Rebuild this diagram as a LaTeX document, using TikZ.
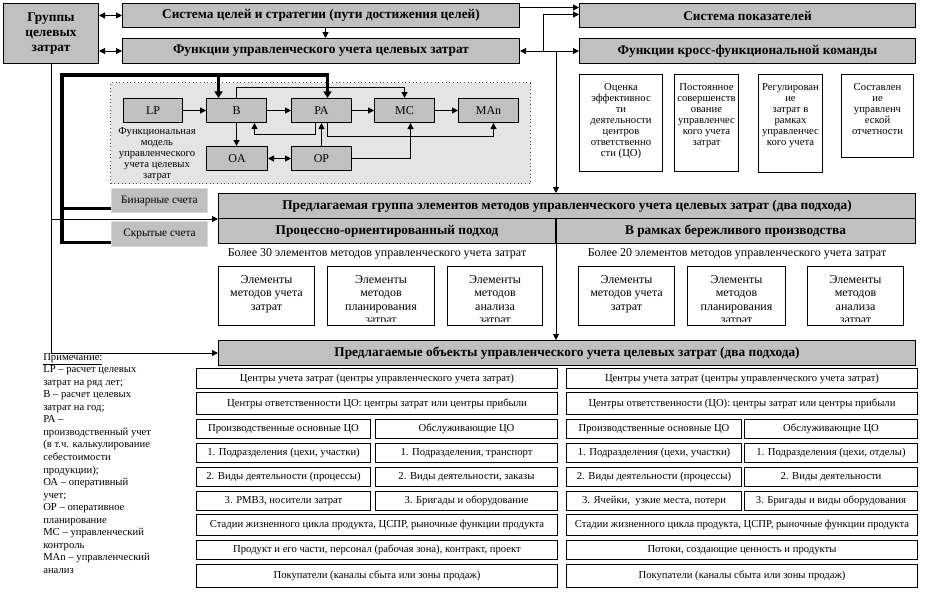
\documentclass[tikz,border=0pt]{standalone}
\usepackage{fontspec}
\setmainfont{Liberation Serif}
\usetikzlibrary{arrows.meta,calc}
\definecolor{gcol}{HTML}{C0C0C0}
\definecolor{areacol}{HTML}{E4E4E4}
\newcommand{\rb}[7]{\node[#1, anchor=north west, minimum width={(#5-#3)*0.75pt}, minimum height={(#6-#4)*0.75pt}] (#2) at (#3,#4) {#7};}
\tikzset{
  gbox/.style={draw=black, fill=gcol, line width=0.75pt, inner sep=0pt, align=center, font=\bfseries\fontsize{10}{11}\selectfont},
  sbox/.style={draw=black, fill=white, line width=0.75pt, inner sep=0pt},
  stext/.style={anchor=north, inner sep=0pt, align=center, font=\fontsize{8}{8.3}\selectfont},
  mbox/.style={draw=black, fill=gcol, line width=0.75pt, inner sep=0pt, font=\fontsize{9}{10}\selectfont},
  lbox/.style={draw=gray!30, fill=gcol, line width=0.75pt, inner sep=0pt, font=\fontsize{8.5}{10}\selectfont},
  area/.style={draw=black!70, dotted, fill=areacol, line width=0.75pt},
  ebox/.style={draw=black, fill=white, line width=0.75pt, inner sep=0pt},
  etext/.style={anchor=north, inner sep=0pt, align=center, font=\fontsize{9}{10.1}\selectfont},
  rowbox/.style={draw=black, fill=white, line width=0.75pt, inner sep=0pt, font=\fontsize{8}{10}\selectfont},
  arr/.style={-{Triangle[length=4.5pt,width=4.5pt]}, line width=0.75pt},
  darr/.style={{Triangle[length=4.5pt,width=4.5pt]}-{Triangle[length=4.5pt,width=4.5pt]}, line width=0.75pt},
  thk/.style={line width=2.4pt},
  thkarr/.style={line width=2.4pt, -{Triangle[length=5pt,width=6pt]}}
}
\begin{document}
\begin{tikzpicture}[x=0.75pt,y=-0.75pt]
\useasboundingbox (0,0) rectangle (930,593);
\fill[white] (0,0) rectangle (930,593);

% top boxes
\rb{gbox, font=\bfseries\fontsize{10}{11.25}\selectfont}{Gr}{3}{3}{98}{63}{Группы\\целевых\\затрат}
\rb{gbox}{Cel}{122}{3}{519}{27}{Система целей и стратегии (пути достижения целей)}
\rb{gbox}{Fun}{122}{38}{519}{63}{Функции управленческого учета целевых затрат}
\rb{gbox}{Pok}{579}{3}{915}{27}{Система показателей}
\rb{gbox}{Kr}{579}{38}{915}{63}{Функции кросс-функциональной команды}

% function boxes
\rb{sbox}{F1}{579}{74}{662}{171}{}
\rb{sbox}{F2}{674}{74}{738}{171}{}
\rb{sbox}{F3}{758}{74}{822}{172}{}
\rb{sbox}{F4}{841}{74}{913}{157}{}
\node[stext] (F1t) at ($(F1.north)+(0,9)$) {Оценка\\эффективнос\\ти\\деятельности\\центров\\ответственно\\сти (ЦО)};
\node[stext] (F2t) at ($(F2.north)+(0,9)$) {Постоянное\\совершенств\\ование\\управленчес\\кого учета\\затрат};
\node[stext] (F3t) at ($(F3.north)+(0,9)$) {Регулирован\\ие\\затрат в\\рамках\\управленчес\\кого учета};
\node[stext] (F4t) at ($(F4.north)+(0,9)$) {Составлен\\ие\\управленч\\еской\\отчетности};

% functional model
\rb{area}{Mod}{110}{82}{530}{183}{}
\node[font=\fontsize{8}{8.3}\selectfont, align=center, inner sep=0pt] (ModL) at (157,154) {Функциональная\\модель\\управленческого\\учета целевых\\затрат};
\rb{mbox}{LP}{123}{98}{182}{122}{LP}
\rb{mbox}{B}{206}{98}{266}{122}{B}
\rb{mbox}{PA}{291}{98}{351}{122}{PA}
\rb{mbox}{MC}{374}{98}{434}{122}{MC}
\rb{mbox}{MAn}{458}{98}{518}{122}{MAn}
\rb{mbox}{OA}{206}{146}{267}{170}{OA}
\rb{mbox}{OP}{291}{146}{351}{170}{OP}

\rb{lbox}{Bin}{111}{188}{207}{212}{Бинарные счета}
\rb{lbox}{Skr}{111}{221}{207}{246}{Скрытые счета}

% proposed group
\rb{gbox}{Grp}{218}{193}{915}{218}{Предлагаемая группа элементов методов управленческого учета целевых затрат (два подхода)}
\rb{gbox}{PO}{218}{218}{555}{243}{Процессно-ориентированный подход}
\rb{gbox}{BR}{555}{218}{915}{243}{В рамках бережливого производства}
\node[font=\fontsize{9}{10}\selectfont, inner sep=0pt] (T30) at (377,254) {Более 30 элементов методов управленческого учета затрат};
\node[font=\fontsize{9}{10}\selectfont, inner sep=0pt] (T20) at (737,254) {Более 20 элементов методов управленческого учета затрат};

\rb{ebox}{E1}{218}{266}{314}{325}{}
\rb{ebox}{E2}{327}{266}{434}{325}{}
\rb{ebox}{E3}{447}{266}{542}{325}{}
\rb{ebox}{E4}{578}{266}{674}{325}{}
\rb{ebox}{E5}{687}{266}{785}{325}{}
\rb{ebox}{E6}{807}{266}{903}{325}{}
\foreach \e/\t in {E1/{Элементы\\методов учета\\затрат}, E2/{Элементы\\методов\\планирования\\затрат}, E3/{Элементы\\методов\\анализа\\затрат}, E4/{Элементы\\методов учета\\затрат}, E5/{Элементы\\методов\\планирования\\затрат}, E6/{Элементы\\методов\\анализа\\затрат}}{
  \begin{scope}
    \clip ($(\e.north west)+(1,1)$) rectangle ($(\e.south east)+(-1,-5)$);
    \node[etext] (\e t) at ($(\e.north)+(0,9)$) {\t};
  \end{scope}
}

\rb{gbox}{Obj}{218}{340}{915}{365}{Предлагаемые объекты управленческого учета целевых затрат (два подхода)}

% object rows, left
\rb{rowbox}{L1}{196}{368}{557}{388}{Центры учета затрат (центры управленческого учета затрат)}
\rb{rowbox}{L2}{196}{392}{557}{414}{Центры ответственности ЦО: центры затрат или центры прибыли}
\rb{rowbox}{L3a}{196}{419}{370}{438}{Производственные основные ЦО}
\rb{rowbox}{L3b}{375}{419}{557}{438}{Обслуживающие ЦО}
\rb{rowbox}{L4a}{196}{443}{370}{462}{1. Подразделения (цехи, участки)}
\rb{rowbox}{L4b}{375}{443}{557}{462}{1. Подразделения, транспорт}
\rb{rowbox}{L5a}{196}{467}{370}{486}{2. Виды деятельности (процессы)}
\rb{rowbox}{L5b}{375}{467}{557}{486}{2. Виды деятельности, заказы}
\rb{rowbox}{L6a}{196}{491}{370}{510}{3. РМВЗ, носители затрат}
\rb{rowbox}{L6b}{375}{491}{557}{510}{3. Бригады и оборудование}
\rb{rowbox}{L7}{196}{514}{557}{535}{Стадии жизненного цикла продукта, ЦСПР, рыночные функции продукта}
\rb{rowbox}{L8}{196}{540}{557}{559}{Продукт и его части, персонал (рабочая зона), контракт, проект}
\rb{rowbox}{L9}{196}{564}{557}{587}{Покупатели (каналы сбыта или зоны продаж)}
% right
\rb{rowbox}{R1}{566}{368}{917}{388}{Центры учета затрат (центры управленческого учета затрат)}
\rb{rowbox}{R2}{566}{392}{917}{414}{Центры ответственности (ЦО): центры затрат или центры прибыли}
\rb{rowbox}{R3a}{566}{419}{741}{438}{Производственные основные ЦО}
\rb{rowbox}{R3b}{744}{419}{917}{438}{Обслуживающие ЦО}
\rb{rowbox}{R4a}{566}{443}{741}{462}{1. Подразделения (цехи, участки)}
\rb{rowbox}{R4b}{744}{443}{917}{462}{1. Подразделения (цехи, отделы)}
\rb{rowbox}{R5a}{566}{467}{741}{486}{2. Виды деятельности (процессы)}
\rb{rowbox}{R5b}{744}{467}{917}{486}{2. Виды деятельности}
\rb{rowbox}{R6a}{566}{491}{741}{510}{3. Ячейки,\ \ узкие места, потери}
\rb{rowbox}{R6b}{744}{491}{917}{510}{3. Бригады и виды оборудования}
\rb{rowbox}{R7}{566}{514}{917}{535}{Стадии жизненного цикла продукта, ЦСПР, рыночные функции продукта}
\rb{rowbox}{R8}{566}{540}{917}{559}{Потоки, создающие ценность и продукты}
\rb{rowbox}{R9}{566}{564}{917}{587}{Покупатели (каналы сбыта или зоны продаж)}

% note
\node[anchor=north west, align=left, inner sep=0pt, font=\fontsize{8}{9.4}\selectfont] (Note) at (43,353) {\underline{Примечание:}\\LP – расчет целевых\\затрат на ряд лет;\\В – расчет целевых\\затрат на год;\\РА –\\производственный учет\\(в т.ч. калькулирование\\себестоимости\\продукции);\\ОА – оперативный\\учет;\\ОР – оперативное\\планирование\\МС – управленческий\\контроль\\МАn – управленческий\\анализ};

% connectors top
\draw[darr] (Gr.east |- Cel.west) -- (Cel.west);
\draw[darr] (Gr.east |- Fun.west) -- (Fun.west);
\draw[arr] ($(Cel.south)+(4.5,0)$) -- ($(Fun.north)+(4.5,0)$);
\draw[arr] ($(Cel.east)+(0,-8)$) -- ($(Pok.west)+(0,-8)$);
\draw[darr] (Fun.east) -- (Kr.west);
\coordinate (j1) at ($(Fun.east)+(23,0)$);
\coordinate (j2) at ($(Fun.east)+(36,0)$);
\draw[arr] (j1) |- ($(Pok.west)+(0,-1)$);
\draw[arr] (j2) -- (j2 |- Grp.north);
\draw[arr] (PO.north east) -- (PO.north east |- Obj.north);

% model connectors
\draw[arr] (LP.east) -- (B.west);
\draw[arr] (B.east) -- (PA.west);
\draw[arr] (PA.east) -- (MC.west);
\draw[arr] (MC.east) -- (MAn.west);
\draw[arr] (B.south) -- (B.south |- OA.north);
\draw[darr] (OA.east) -- (OP.west);
\draw[arr] (B.north) -- ++(0,-11) -| (MC.north);
\draw[arr] ($(PA.south)+(-6,0)$) -- ++(0,11) -| ($(B.south)+(18,0)$);
\draw[arr] (OP.north) -- (OP.north |- PA.south);
\draw[arr] ($(PA.south)+(6,0)$) -- ++(0,13) -| ($(MAn.south)+(5,0)$);
\draw[arr] (OP.east) -| ($(MC.south)+(6,0)$);

% thick connectors
\coordinate (tl) at (62,75);
\draw[thkarr] ($(Skr.west)+(0,8.5)$) -| (tl) -| ($(PA.north)+(6,0)$);
\draw[thk] ($(Bin.west)+(0,8)$) -- ++(-49,0);
\draw[thkarr] ($(B.north)+(-18,-23)$) -- ($(B.north)+(-18,0)$);

% thin line from groups
\draw[arr] (Gr.south) |- (Obj.west);
\draw[arr] (Gr.south |- Grp.south west) -- (Grp.south west);
\end{tikzpicture}
\end{document}
